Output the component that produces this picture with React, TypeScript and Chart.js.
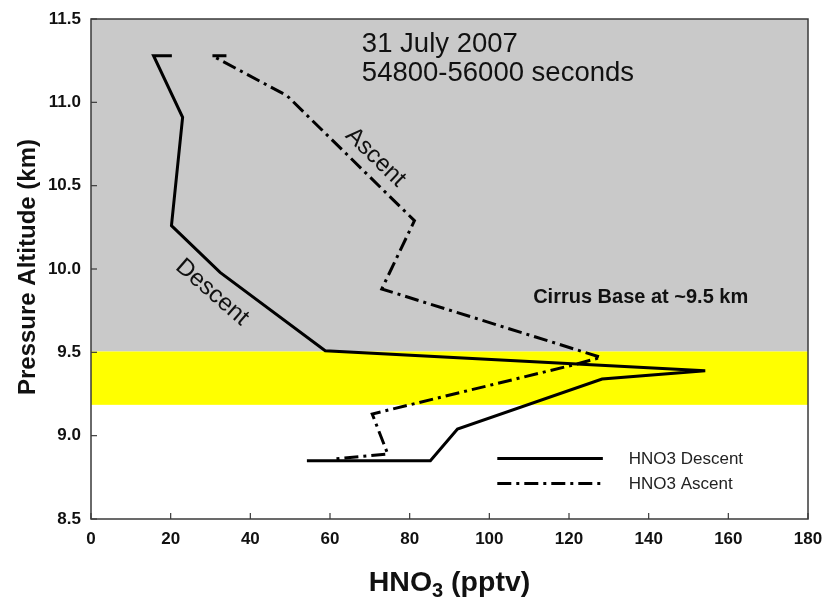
import React, { useEffect, useRef } from "react";
import { Chart, registerables } from "chart.js";

Chart.register(...registerables);

const FONT = "'Liberation Sans', Arial, Helvetica, sans-serif";

// HNO3 mixing ratio (pptv) and pressure altitude (km)
const descentHNO3 = [20.3, 15.7, 23.0, 20.2, 32.4, 58.8, 154.2, 128.3, 92.0, 85.2, 54.2];
const descentAlt = [11.28, 11.28, 10.91, 10.26, 9.98, 9.51, 9.39, 9.34, 9.04, 8.85, 8.85];
const ascentHNO3 = [34.0, 30.4, 49.2, 81.2, 73.0, 128.0, 122.0, 70.6, 74.5, 61.0];
const ascentAlt = [11.28, 11.28, 11.04, 10.29, 9.88, 9.47, 9.43, 9.13, 8.89, 8.86];

const seriesLabels = ["HNO3 Descent", "HNO3 Ascent"];

const xMin = 0;
const xMax = 180;
const xStep = 20;
const yMin = 8.5;
const yMax = 11.5;
const yStep = 0.5;

// Cloud layers (km)
const cirrusTop = 9.505;
const cirrusBottom = 9.185;

const titleLines = ["31 July 2007", "54800-56000 seconds"];
const cirrusNote = "Cirrus Base at ~9.5 km";
const ascentNote = "Ascent";
const descentNote = "Descent";
const yTitle = "Pressure Altitude (km)";
const xTitleMain = "HNO";
const xTitleSub = "3";
const xTitleTail = " (pptv)";

export default function App() {
  const ref = useRef<HTMLCanvasElement>(null);

  useEffect(() => {
    document.body.style.margin = "0";
    const canvas = ref.current!;

    const decor = {
      id: "decor",
      beforeDatasetsDraw(chart: any) {
        const { ctx, chartArea: a, scales } = chart;
        const y = scales.y;
        const yt = y.getPixelForValue(cirrusTop);
        const yb = y.getPixelForValue(cirrusBottom);
        ctx.save();
        ctx.fillStyle = "#ffffff";
        ctx.fillRect(a.left, a.top, a.right - a.left, a.bottom - a.top);
        ctx.fillStyle = "rgb(201,201,201)";
        ctx.fillRect(a.left, a.top, a.right - a.left, yt - a.top);
        ctx.fillStyle = "#ffff00";
        ctx.fillRect(a.left, yt, a.right - a.left, yb - yt);
        ctx.restore();
      },
      afterDraw(chart: any) {
        const { ctx, chartArea: a, scales } = chart;
        const x = scales.x;
        const y = scales.y;
        ctx.save();
        // frame
        ctx.strokeStyle = "#3a3a3a";
        ctx.lineWidth = 1.5;
        ctx.strokeRect(a.left, a.top, a.right - a.left, a.bottom - a.top);
        // inward ticks
        ctx.lineWidth = 1.2;
        x.ticks.forEach((_: any, i: number) => {
          const px = x.getPixelForTick(i);
          ctx.beginPath();
          ctx.moveTo(px, a.bottom);
          ctx.lineTo(px, a.bottom - 6);
          ctx.stroke();
        });
        y.ticks.forEach((_: any, i: number) => {
          const py = y.getPixelForTick(i);
          ctx.beginPath();
          ctx.moveTo(a.left, py);
          ctx.lineTo(a.left + 6, py);
          ctx.stroke();
        });

        // date / time annotation
        ctx.fillStyle = "#111";
        ctx.font = `27.5px ${FONT}`;
        ctx.textAlign = "left";
        ctx.textBaseline = "alphabetic";
        ctx.fillText(titleLines[0], x.getPixelForValue(68.0), y.getPixelForValue(11.305));
        ctx.fillText(titleLines[1], x.getPixelForValue(68.0), y.getPixelForValue(11.13));

        // cirrus note
        ctx.font = `bold 20px ${FONT}`;
        ctx.fillText(cirrusNote, x.getPixelForValue(111.0), y.getPixelForValue(9.795));

        // rotated curve labels
        ctx.font = `24px ${FONT}`;
        ctx.textAlign = "center";
        ctx.textBaseline = "middle";
        ctx.save();
        ctx.translate(x.getPixelForValue(71.4), y.getPixelForValue(10.67));
        ctx.rotate((44 * Math.PI) / 180);
        ctx.fillText(ascentNote, 0, 0);
        ctx.restore();
        ctx.save();
        ctx.translate(x.getPixelForValue(30.4), y.getPixelForValue(9.86));
        ctx.rotate((41 * Math.PI) / 180);
        ctx.fillText(descentNote, 0, 0);
        ctx.restore();

        // legend
        const ds = chart.data.datasets;
        const legX0 = x.getPixelForValue(102);
        const legX1 = x.getPixelForValue(128.5);
        const legText = x.getPixelForValue(135);
        const legY = [y.getPixelForValue(8.863), y.getPixelForValue(8.713)];
        ds.forEach((d: any, i: number) => {
          ctx.strokeStyle = d.borderColor;
          ctx.lineWidth = d.borderWidth;
          ctx.setLineDash(d.borderDash || []);
          ctx.beginPath();
          ctx.moveTo(legX0, legY[i]);
          ctx.lineTo(legX1, legY[i]);
          ctx.stroke();
          ctx.setLineDash([]);
          ctx.fillStyle = "#222";
          ctx.font = `17px ${FONT}`;
          ctx.textAlign = "left";
          ctx.textBaseline = "middle";
          ctx.fillText(d.label, legText, legY[i] + 1);
        });

        // y axis title
        ctx.fillStyle = "#111";
        ctx.font = `bold 24px ${FONT}`;
        ctx.textAlign = "center";
        ctx.textBaseline = "alphabetic";
        ctx.save();
        ctx.translate(35, (a.top + a.bottom) / 2 - 2);
        ctx.rotate(-Math.PI / 2);
        ctx.fillText(yTitle, 0, 0);
        ctx.restore();

        // x axis title with subscript
        const bigFont = `bold 28.5px ${FONT}`;
        const subFont = `bold 20px ${FONT}`;
        ctx.font = bigFont;
        const w1 = ctx.measureText(xTitleMain).width;
        const w3 = ctx.measureText(xTitleTail).width;
        ctx.font = subFont;
        const w2 = ctx.measureText(xTitleSub).width;
        const total = w1 + w2 + w3;
        const cx = (a.left + a.right) / 2;
        const base = 591;
        let sx = cx - total / 2;
        ctx.textAlign = "left";
        ctx.font = bigFont;
        ctx.fillText(xTitleMain, sx, base);
        sx += w1;
        ctx.font = subFont;
        ctx.fillText(xTitleSub, sx, base + 6);
        sx += w2;
        ctx.font = bigFont;
        ctx.fillText(xTitleTail, sx, base);
        ctx.restore();
      },
    };

    const chart = new Chart(canvas, {
      type: "scatter",
      data: {
        datasets: [
          {
            label: seriesLabels[0],
            data: descentHNO3.map((v, i) => ({ x: v, y: descentAlt[i] })),
            showLine: true,
            borderColor: "#000000",
            backgroundColor: "#000000",
            borderWidth: 3,
            borderDash: [],
            pointRadius: 0,
            tension: 0,
            fill: false,
          },
          {
            label: seriesLabels[1],
            data: ascentHNO3.map((v, i) => ({ x: v, y: ascentAlt[i] })),
            showLine: true,
            borderColor: "#000000",
            backgroundColor: "#000000",
            borderWidth: 3,
            borderDash: [14, 5, 3, 5],
            pointRadius: 0,
            tension: 0,
            fill: false,
          },
        ],
      },
      options: {
        responsive: false,
        animation: false,
        layout: { padding: { top: 19, right: 20, left: 0, bottom: 0 } },
        plugins: { legend: { display: false }, tooltip: { enabled: false } },
        scales: {
          x: {
            type: "linear",
            min: xMin,
            max: xMax,
            ticks: {
              stepSize: xStep,
              color: "#111",
              padding: 10,
              font: { family: FONT, size: 17, weight: "bold" },
            },
            grid: { display: false, drawTicks: false },
            border: { display: false },
            afterFit(s: any) {
              s.height = 81;
              s.paddingLeft = 0;
              s.paddingRight = 0;
            },
          },
          y: {
            type: "linear",
            min: yMin,
            max: yMax,
            ticks: {
              stepSize: yStep,
              color: "#111",
              padding: 10,
              font: { family: FONT, size: 17, weight: "bold" },
              callback: (v: any) => Number(v).toFixed(1),
            },
            grid: { display: false, drawTicks: false },
            border: { display: false },
            afterFit(s: any) {
              s.width = 91;
              s.paddingTop = 0;
              s.paddingBottom = 0;
            },
          },
        },
      },
      plugins: [decor],
    } as any);

    return () => chart.destroy();
  }, []);

  return (
    <div style={{ width: 828, height: 600, background: "#fff" }}>
      <canvas ref={ref} width={828} height={600} />
    </div>
  );
}
